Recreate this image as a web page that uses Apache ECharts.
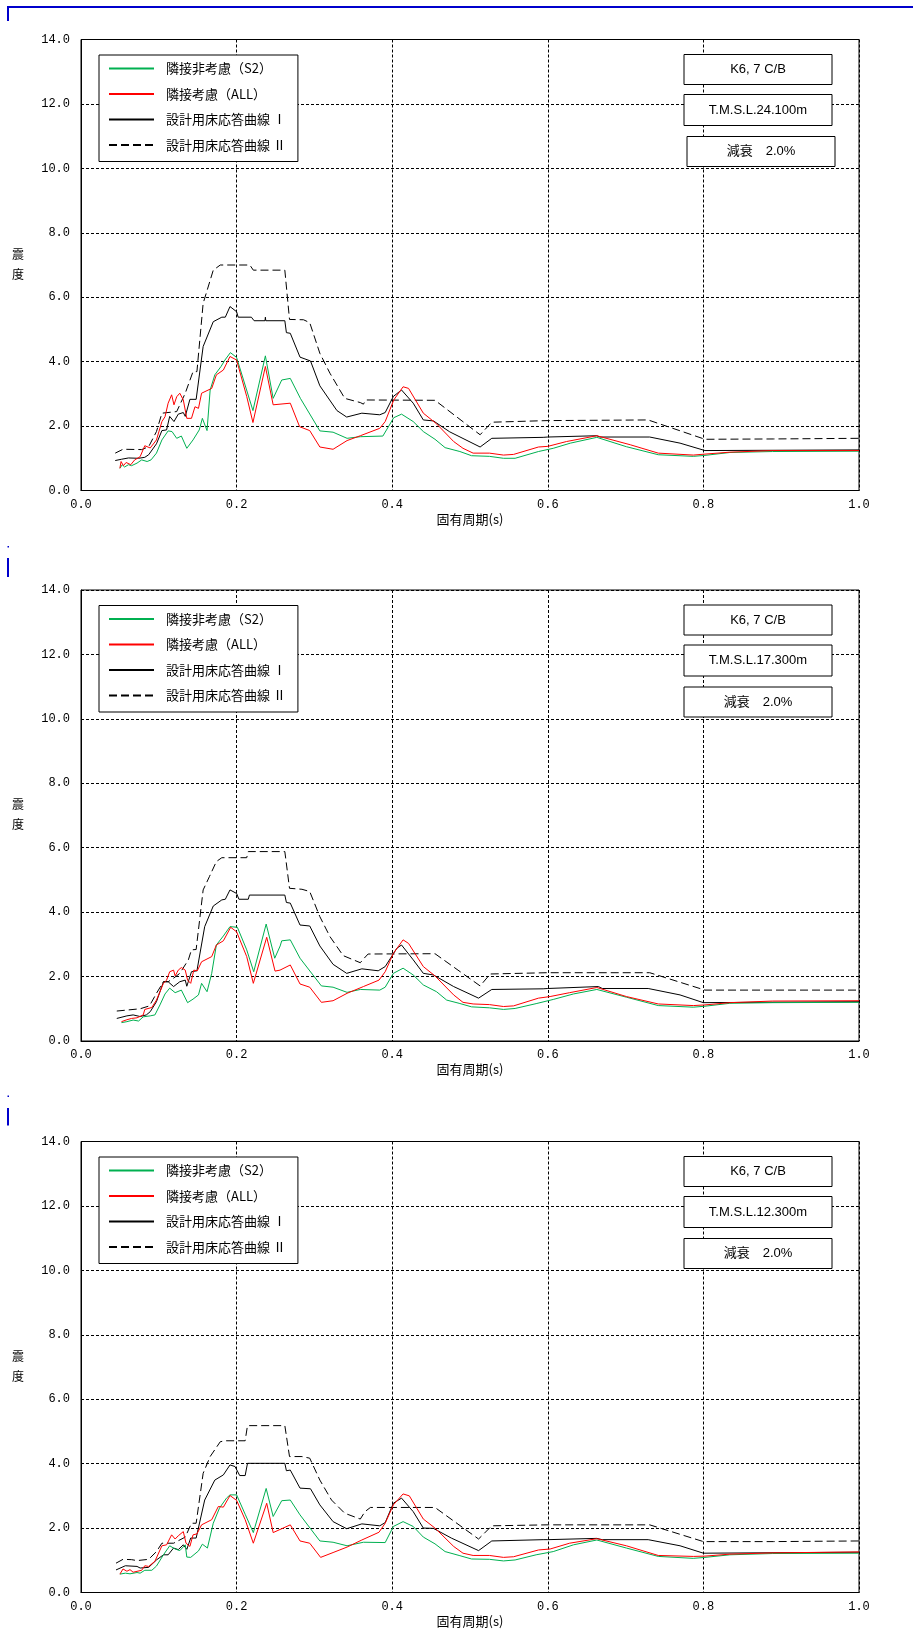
<!DOCTYPE html>
<html>
<head>
<meta charset="utf-8">
<script src="https://cdn.jsdelivr.net/npm/echarts@6/dist/echarts.min.js"></script>
<style>
html,body{margin:0;padding:0;background:#fff;}
#chart{width:913px;height:1641px;}
</style>
</head>
<body>
<div id="chart"></div>
<script>
// ---------- DATA ----------
const seriesNames = ['隣接非考慮（S2）', '隣接考慮（ALL）', '設計用床応答曲線 Ⅰ', '設計用床応答曲線 Ⅱ'];
const xTicks = [0, 0.2, 0.4, 0.6, 0.8, 1.0];
const yTicks = [0, 2, 4, 6, 8, 10, 12, 14];
const xAxisName = '固有周期(s)';
const yAxisName = '震\n度';
const boxTexts = [
  ['K6, 7 C/B', 'T.M.S.L.24.100m', '減衰　2.0%'],
  ['K6, 7 C/B', 'T.M.S.L.17.300m', '減衰　2.0%'],
  ['K6, 7 C/B', 'T.M.S.L.12.300m', '減衰　2.0%']
];

// Panel 1 (T.M.S.L.24.100m)
const p1Green = [[0.050,0.69],[0.053,0.80],[0.056,0.73],[0.061,0.80],[0.065,0.77],[0.072,0.85],[0.078,0.95],[0.085,0.90],[0.090,0.95],[0.097,1.16],[0.104,1.57],[0.112,1.85],[0.117,1.83],[0.123,1.62],[0.129,1.69],[0.136,1.31],[0.144,1.57],[0.152,1.88],[0.156,2.24],[0.162,1.86],[0.166,3.12],[0.172,3.59],[0.180,3.85],[0.185,4.05],[0.192,4.28],[0.200,4.13],[0.221,2.48],[0.237,4.18],[0.247,2.86],[0.258,3.43],[0.269,3.48],[0.282,2.86],[0.307,1.85],[0.324,1.81],[0.342,1.62],[0.359,1.67],[0.388,1.69],[0.402,2.26],[0.412,2.37],[0.427,2.14],[0.440,1.83],[0.455,1.59],[0.468,1.33],[0.487,1.21],[0.502,1.08],[0.525,1.06],[0.543,1.00],[0.558,1.00],[0.588,1.21],[0.607,1.31],[0.629,1.47],[0.663,1.65],[0.701,1.36],[0.742,1.11],[0.787,1.06],[0.802,1.09],[0.834,1.18],[0.889,1.21],[1.000,1.22]];
const p1Red = [[0.050,0.69],[0.0515,0.90],[0.0545,0.77],[0.058,0.87],[0.064,0.80],[0.069,0.95],[0.076,1.05],[0.082,1.39],[0.089,1.32],[0.097,1.57],[0.104,2.14],[0.108,2.29],[0.112,2.71],[0.1165,2.97],[0.1195,2.66],[0.123,2.91],[0.127,3.02],[0.1315,2.81],[0.136,2.24],[0.142,2.24],[0.1465,2.60],[0.151,2.55],[0.155,3.02],[0.168,3.17],[0.174,3.59],[0.183,3.74],[0.1915,4.16],[0.200,4.05],[0.213,2.92],[0.221,2.11],[0.237,3.85],[0.247,2.66],[0.269,2.71],[0.281,1.98],[0.294,1.86],[0.307,1.35],[0.324,1.28],[0.342,1.55],[0.359,1.70],[0.384,1.93],[0.391,2.14],[0.402,2.81],[0.414,3.22],[0.421,3.17],[0.440,2.40],[0.457,2.07],[0.479,1.52],[0.491,1.31],[0.504,1.16],[0.525,1.16],[0.543,1.10],[0.556,1.12],[0.588,1.35],[0.600,1.37],[0.624,1.52],[0.663,1.70],[0.706,1.42],[0.742,1.16],[0.787,1.10],[0.802,1.13],[0.834,1.19],[0.889,1.24],[1.000,1.24]];
const p1Black = [[0.044,0.93],[0.052,0.97],[0.061,1.01],[0.074,1.00],[0.082,1.03],[0.087,1.11],[0.097,1.45],[0.104,1.86],[0.110,1.88],[0.114,2.30],[0.1195,2.14],[0.125,2.37],[0.1315,2.42],[0.134,2.30],[0.140,2.83],[0.148,2.83],[0.157,4.47],[0.170,5.24],[0.181,5.38],[0.1855,5.38],[0.1915,5.71],[0.200,5.55],[0.202,5.38],[0.219,5.38],[0.2225,5.27],[0.2365,5.27],[0.237,5.38],[0.2375,5.27],[0.262,5.27],[0.264,4.90],[0.269,4.88],[0.2815,4.14],[0.295,4.02],[0.307,3.25],[0.329,2.48],[0.3415,2.28],[0.361,2.40],[0.384,2.35],[0.391,2.42],[0.4015,2.92],[0.412,3.12],[0.427,2.71],[0.440,2.19],[0.453,2.16],[0.474,1.82],[0.513,1.35],[0.528,1.62],[0.594,1.65],[0.600,1.66],[0.663,1.70],[0.667,1.66],[0.731,1.66],[0.770,1.47],[0.802,1.24],[1.000,1.26]];
const p1Dash = [[0.044,1.16],[0.054,1.28],[0.078,1.27],[0.087,1.36],[0.097,1.83],[0.104,2.40],[0.123,2.45],[0.134,3.02],[0.144,3.69],[0.149,3.69],[0.157,5.81],[0.170,6.84],[0.179,7.00],[0.217,7.00],[0.2215,6.84],[0.262,6.84],[0.268,5.31],[0.286,5.30],[0.294,5.21],[0.307,4.26],[0.320,3.64],[0.339,2.86],[0.359,2.73],[0.363,2.68],[0.366,2.81],[0.455,2.80],[0.513,1.73],[0.528,2.12],[0.599,2.17],[0.600,2.19],[0.729,2.19],[0.802,1.59],[0.890,1.60],[1.000,1.62]];

// Panel 2 (T.M.S.L.17.300m)
const p2Green = [[0.052,0.57],[0.059,0.60],[0.067,0.65],[0.074,0.62],[0.080,0.75],[0.089,0.78],[0.095,0.81],[0.1015,1.12],[0.108,1.46],[0.114,1.64],[0.121,1.50],[0.129,1.58],[0.137,1.19],[0.144,1.30],[0.151,1.43],[0.155,1.79],[0.162,1.53],[0.168,2.10],[0.174,2.98],[0.183,3.26],[0.1915,3.55],[0.201,3.53],[0.213,2.83],[0.222,2.15],[0.238,3.63],[0.249,2.57],[0.256,2.95],[0.258,3.11],[0.269,3.14],[0.2815,2.57],[0.309,1.71],[0.324,1.67],[0.342,1.51],[0.359,1.60],[0.384,1.58],[0.391,1.67],[0.4015,2.10],[0.414,2.26],[0.427,2.05],[0.440,1.74],[0.457,1.53],[0.470,1.27],[0.486,1.17],[0.502,1.06],[0.525,1.03],[0.543,0.98],[0.558,1.01],[0.585,1.16],[0.607,1.29],[0.633,1.46],[0.663,1.60],[0.701,1.36],[0.742,1.10],[0.787,1.05],[0.802,1.08],[0.834,1.17],[0.889,1.19],[1.000,1.20]];
const p2Red = [[0.052,0.60],[0.059,0.66],[0.065,0.70],[0.072,0.72],[0.080,0.81],[0.082,0.98],[0.091,1.04],[0.097,1.27],[0.106,1.79],[0.110,1.89],[0.114,2.15],[0.119,2.20],[0.121,2.02],[0.125,2.20],[0.129,2.28],[0.134,2.20],[0.137,1.89],[0.141,1.79],[0.145,2.20],[0.1495,2.18],[0.155,2.46],[0.168,2.62],[0.174,2.98],[0.183,3.11],[0.1924,3.53],[0.200,3.39],[0.213,2.62],[0.2215,1.79],[0.2387,3.22],[0.2494,2.17],[0.2558,2.20],[0.269,2.36],[0.2815,1.77],[0.294,1.67],[0.309,1.20],[0.324,1.25],[0.342,1.48],[0.363,1.69],[0.383,1.89],[0.391,2.15],[0.4015,2.72],[0.414,3.14],[0.421,3.03],[0.440,2.31],[0.455,2.02],[0.479,1.43],[0.491,1.20],[0.504,1.15],[0.525,1.13],[0.543,1.07],[0.556,1.09],[0.588,1.33],[0.603,1.38],[0.628,1.50],[0.663,1.66],[0.701,1.38],[0.742,1.15],[0.787,1.10],[0.802,1.12],[0.834,1.19],[0.889,1.24],[1.000,1.25]];
const p2Black = [[0.046,0.70],[0.059,0.78],[0.067,0.81],[0.076,0.76],[0.084,0.81],[0.089,0.91],[0.097,1.22],[0.106,1.84],[0.112,1.84],[0.119,1.69],[0.127,1.84],[0.134,1.89],[0.136,1.70],[0.142,2.15],[0.149,2.18],[0.159,3.55],[0.170,4.19],[0.181,4.38],[0.1855,4.40],[0.1915,4.69],[0.200,4.58],[0.203,4.40],[0.215,4.40],[0.2165,4.53],[0.262,4.53],[0.264,4.30],[0.269,4.28],[0.2815,3.60],[0.294,3.57],[0.307,2.95],[0.324,2.38],[0.3415,2.10],[0.361,2.24],[0.382,2.18],[0.391,2.31],[0.406,2.88],[0.412,2.98],[0.427,2.52],[0.440,2.10],[0.453,2.05],[0.479,1.69],[0.511,1.33],[0.528,1.60],[0.594,1.62],[0.600,1.63],[0.665,1.69],[0.670,1.63],[0.729,1.63],[0.770,1.43],[0.800,1.19],[1.000,1.22]];
const p2Dash = [[0.046,0.93],[0.076,1.00],[0.088,1.09],[0.097,1.48],[0.106,1.84],[0.112,1.84],[0.119,1.95],[0.127,2.10],[0.138,2.52],[0.142,2.83],[0.148,2.84],[0.157,4.69],[0.165,5.10],[0.174,5.57],[0.181,5.69],[0.213,5.69],[0.215,5.88],[0.262,5.88],[0.268,4.74],[0.284,4.71],[0.294,4.64],[0.307,3.86],[0.320,3.24],[0.337,2.65],[0.359,2.43],[0.364,2.57],[0.369,2.70],[0.455,2.71],[0.513,1.71],[0.526,2.08],[0.599,2.12],[0.731,2.12],[0.802,1.58],[0.890,1.58],[1.000,1.58]];

// Panel 3 (T.M.S.L.12.300m)
const p3Green = [[0.050,0.57],[0.057,0.60],[0.063,0.58],[0.072,0.62],[0.076,0.60],[0.082,0.69],[0.091,0.69],[0.097,0.82],[0.106,1.17],[0.114,1.45],[0.121,1.35],[0.127,1.30],[0.134,1.48],[0.136,1.10],[0.141,1.09],[0.151,1.29],[0.156,1.50],[0.1625,1.38],[0.170,2.15],[0.178,2.62],[0.187,2.93],[0.1915,3.03],[0.200,3.03],[0.211,2.43],[0.2215,1.86],[0.238,3.23],[0.247,2.36],[0.258,2.85],[0.269,2.87],[0.2815,2.41],[0.307,1.60],[0.324,1.56],[0.342,1.45],[0.363,1.56],[0.391,1.55],[0.4015,2.05],[0.414,2.20],[0.427,2.05],[0.440,1.72],[0.455,1.51],[0.468,1.27],[0.486,1.15],[0.502,1.04],[0.525,1.03],[0.543,0.98],[0.558,1.01],[0.585,1.17],[0.607,1.27],[0.633,1.48],[0.663,1.63],[0.701,1.38],[0.742,1.12],[0.787,1.06],[0.802,1.09],[0.834,1.17],[0.889,1.21],[1.000,1.22]];
const p3Red = [[0.050,0.57],[0.054,0.73],[0.059,0.66],[0.063,0.71],[0.067,0.63],[0.078,0.69],[0.082,0.83],[0.087,0.81],[0.095,0.97],[0.104,1.45],[0.110,1.48],[0.1165,1.79],[0.121,1.66],[0.125,1.76],[0.1315,1.89],[0.135,1.53],[0.140,1.43],[0.144,1.79],[0.149,1.82],[0.155,2.10],[0.168,2.26],[0.1765,2.67],[0.183,2.65],[0.1915,3.01],[0.200,2.86],[0.211,2.26],[0.2215,1.53],[0.2387,2.77],[0.247,1.86],[0.269,2.10],[0.2815,1.60],[0.294,1.53],[0.308,1.09],[0.324,1.24],[0.342,1.41],[0.361,1.63],[0.383,1.87],[0.391,2.15],[0.4015,2.72],[0.414,3.06],[0.422,3.00],[0.440,2.28],[0.455,2.00],[0.479,1.43],[0.491,1.22],[0.504,1.15],[0.525,1.15],[0.543,1.09],[0.556,1.11],[0.588,1.32],[0.603,1.35],[0.628,1.53],[0.663,1.67],[0.701,1.45],[0.742,1.15],[0.787,1.12],[0.802,1.13],[0.834,1.19],[0.889,1.23],[1.000,1.26]];
const p3Black = [[0.045,0.70],[0.057,0.83],[0.072,0.81],[0.076,0.76],[0.087,0.78],[0.097,1.01],[0.106,1.17],[0.112,1.17],[0.119,1.38],[0.125,1.33],[0.1315,1.48],[0.136,1.34],[0.141,1.69],[0.148,1.69],[0.159,2.87],[0.172,3.49],[0.183,3.65],[0.1915,3.96],[0.198,3.91],[0.204,3.63],[0.211,3.63],[0.214,4.01],[0.262,4.01],[0.264,3.78],[0.269,3.80],[0.2815,3.24],[0.295,3.22],[0.307,2.72],[0.324,2.20],[0.3415,1.98],[0.361,2.13],[0.384,2.07],[0.391,2.17],[0.4015,2.77],[0.412,2.93],[0.427,2.51],[0.440,2.00],[0.453,1.99],[0.476,1.69],[0.511,1.30],[0.528,1.60],[0.594,1.64],[0.600,1.64],[0.663,1.68],[0.670,1.64],[0.729,1.64],[0.770,1.45],[0.800,1.22],[1.000,1.25]];
const p3Dash = [[0.045,0.91],[0.054,1.03],[0.065,1.02],[0.072,0.99],[0.087,1.03],[0.097,1.27],[0.104,1.53],[0.119,1.53],[0.134,1.72],[0.142,2.15],[0.148,2.15],[0.157,3.70],[0.166,4.22],[0.179,4.68],[0.185,4.71],[0.211,4.71],[0.214,5.18],[0.262,5.18],[0.268,4.22],[0.284,4.22],[0.294,4.17],[0.307,3.49],[0.322,2.87],[0.339,2.46],[0.359,2.28],[0.365,2.51],[0.372,2.64],[0.455,2.64],[0.511,1.66],[0.528,2.07],[0.599,2.10],[0.731,2.10],[0.800,1.58],[0.890,1.58],[1.000,1.60]];

const panels = [
  [p1Green, p1Red, p1Black, p1Dash],
  [p2Green, p2Red, p2Black, p2Dash],
  [p3Green, p3Red, p3Black, p3Dash]
];

// ---------- LAYOUT / STYLE ----------
const panelTops = [39.5, 590, 1141.5];
const gridLeft = 81, gridWidth = 778, gridHeight = 451;
const lineStyles = [
  {color: '#00b050', width: 1, type: 'solid'},
  {color: '#ff0000', width: 1, type: 'solid'},
  {color: '#000000', width: 1, type: 'solid'},
  {color: '#000000', width: 1, type: [8, 4]}
];
const monoFont = 'Liberation Mono';
const cjkFont = '"Noto Sans CJK JP", sans-serif';
const boxFont = '13px "Liberation Sans", "Noto Sans CJK JP", sans-serif';

const grid = [], xAxis = [], yAxis = [], series = [], legend = [], graphic = [];

panelTops.forEach((t, i) => {
  grid.push({left: gridLeft, top: t, width: gridWidth, height: gridHeight,
    show: true, borderColor: '#000', borderWidth: 1, backgroundColor: 'transparent'});
  xAxis.push({
    type: 'value', gridIndex: i, min: xTicks[0], max: xTicks[xTicks.length - 1], interval: 0.2,
    axisLine: {show: true, lineStyle: {color: '#000', width: 1}},
    axisTick: {show: false},
    axisLabel: {formatter: v => v.toFixed(1), fontFamily: monoFont, fontSize: 12, color: '#000', margin: 8},
    splitLine: {show: true, lineStyle: {color: '#000', width: 1, type: [3, 2]}},
    name: xAxisName, nameLocation: 'middle', nameGap: 22,
    nameTextStyle: {fontFamily: cjkFont, fontSize: 13, color: '#000'}
  });
  yAxis.push({
    type: 'value', gridIndex: i, min: yTicks[0], max: yTicks[yTicks.length - 1], interval: 2,
    axisLine: {show: true, lineStyle: {color: '#000', width: 1}},
    axisTick: {show: false},
    axisLabel: {formatter: v => v.toFixed(1), fontFamily: monoFont, fontSize: 12, color: '#000', margin: 11},
    splitLine: {show: true, lineStyle: {color: '#000', width: 1, type: [3, 2]}}
  });
  panels[i].forEach((d, k) => {
    series.push({
      name: seriesNames[k], type: 'line', xAxisIndex: i, yAxisIndex: i,
      data: d, symbol: 'none', showSymbol: false, smooth: false,
      lineStyle: lineStyles[k], itemStyle: {color: lineStyles[k].color},
      z: k === 3 ? 3 : (k === 2 ? 4 : (k === 1 ? 6 : 5)),
      animation: false
    });
  });
  legend.push({
    orient: 'vertical', left: 99, top: t + 15.5,
    itemWidth: 45, itemHeight: 14, itemGap: 12.5,
    padding: [7, 12, 10, 9],
    borderColor: '#000', borderWidth: 1, backgroundColor: '#fff',
    itemStyle: {opacity: 0},
    textStyle: {fontFamily: cjkFont, fontSize: 13, color: '#000', padding: [0, 0, 0, 7]},
    data: seriesNames, selectedMode: false, z: 20
  });
  // y axis name (vertical)
  graphic.push({
    type: 'text', x: 18, y: t + gridHeight / 2 - 1, z: 50,
    style: {text: yAxisName, font: '12px ' + cjkFont, fill: '#000', align: 'center',
      verticalAlign: 'middle', lineHeight: 20}
  });
  // info boxes
  const relTops = [15, 55, 97];
  const heights = [30, 31, 30];
  boxTexts[i].forEach((txt, j) => {
    const bx = (i === 0 && j === 2) ? 687 : 684;
    const by = t + relTops[j];
    graphic.push({type: 'rect', z: 50, shape: {x: bx, y: by, width: 148, height: heights[j]},
      style: {fill: '#fff', stroke: '#000', lineWidth: 1}});
    graphic.push({type: 'text', z: 51, x: bx + 74, y: by + heights[j] / 2,
      style: {text: txt, font: boxFont, fill: '#000', align: 'center', verticalAlign: 'middle'}});
  });
});

// blue page marks
const blue = '#0000cc';
graphic.push({type: 'line', z: 60, shape: {x1: 7.5, y1: 7, x2: 913, y2: 7}, style: {stroke: blue, lineWidth: 2}});
graphic.push({type: 'line', z: 60, shape: {x1: 8, y1: 6, x2: 8, y2: 21}, style: {stroke: blue, lineWidth: 2}});
[[546.5, 558, 577], [1096, 1108, 1125.5]].forEach(m => {
  graphic.push({type: 'rect', z: 60, shape: {x: 7.5, y: m[0] - 0.5, width: 1.5, height: 1.5}, style: {fill: blue}});
  graphic.push({type: 'line', z: 60, shape: {x1: 8, y1: m[1], x2: 8, y2: m[2]}, style: {stroke: blue, lineWidth: 2}});
});

const chart = echarts.init(document.getElementById('chart'), null, {renderer: 'canvas'});
chart.setOption({
  backgroundColor: '#fff',
  animation: false,
  grid, xAxis, yAxis, series, legend, graphic
});
</script>
</body>
</html>
